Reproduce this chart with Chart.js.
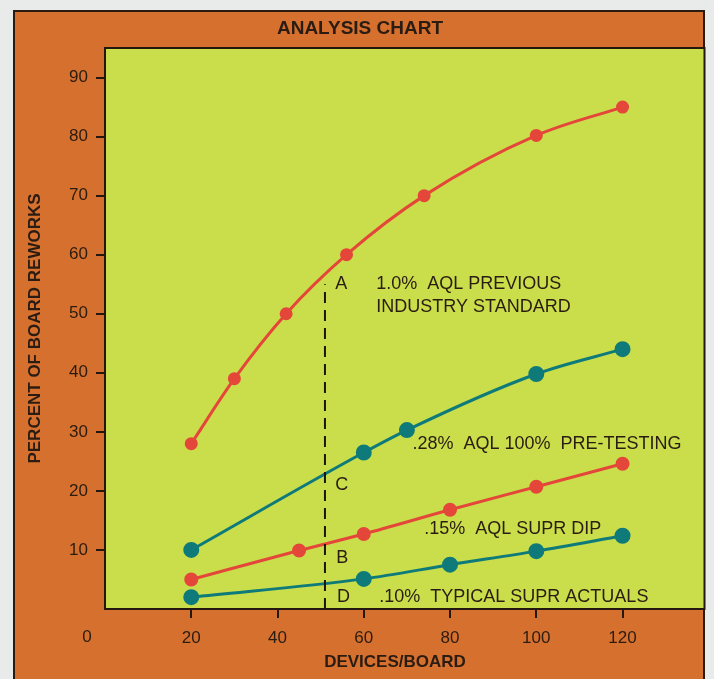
<!DOCTYPE html>
<html>
<head>
<meta charset="utf-8">
<script src="https://cdn.jsdelivr.net/npm/chart.js@4"></script>
<style>
  html, body { margin: 0; padding: 0; background: #e9eaea; overflow: hidden; }
  #frame { position: absolute; left: 13px; top: 10px; width: 692px; height: 700px; background: #d6702e; border: 2px solid #2a1a10; box-sizing: border-box; }
  #wrap { position: absolute; left: 0; top: 0; width: 714px; height: 679px; }
</style>
</head>
<body>
<div id="frame"></div>
<div id="wrap"><canvas id="chart"></canvas></div>
<script>
// ===== Analysis chart: board reworks vs devices/board =====

const xTicks = [20, 40, 60, 80, 100, 120];
const yTicks = [10, 20, 30, 40, 50, 60, 70, 80, 90];

// A - 1.0% AQL previous industry standard
const aX = [20, 30, 42, 56, 74, 100, 120];
const aY = [28, 39, 50, 60, 70, 80.2, 85];
// C - .28% AQL 100% pre-testing
const cX = [20, 60, 70, 100, 120];
const cY = [10, 26.5, 30.3, 39.8, 44];
// B - .15% AQL supr dip
const bX = [20, 45, 60, 80, 100, 120];
const bY = [5, 9.9, 12.7, 16.8, 20.7, 24.6];
// D - .10% typical supr actuals
const dX = [20, 60, 80, 100, 120];
const dY = [2, 5.1, 7.5, 9.8, 12.4];
// dashed marker line
const dashX = [51, 51];
const dashY = [0, 55];

const labelText = ['A', '1.0%  AQL PREVIOUS', 'INDUSTRY STANDARD', 'C', '.28%  AQL 100%  PRE-TESTING', 'B', '.15%  AQL SUPR DIP', 'D', '.10%  TYPICAL SUPR ACTUALS'];
const labelX = [53.4, 62.9, 62.9, 53.4, 71.3, 53.6, 74.0, 53.8, 63.6];
const labelY = [55.0, 55.0, 51.1, 21.0, 28.0, 8.6, 13.6, 2.0, 2.0];

const RED = '#e4473a', TEAL = '#0f7a7a', INK = '#2a1c12';
const FONT = '"Liberation Sans", Arial, sans-serif';
const pts = (xs, ys) => xs.map((x, i) => ({x: x, y: ys[i]}));

function lineSet(label, xs, ys, color, r) {
  return {label: label, data: pts(xs, ys), borderColor: color, backgroundColor: color, borderWidth: 3,
    pointRadius: r, pointHoverRadius: r, cubicInterpolationMode: 'monotone'};
}

const framePlugin = {
  id: 'frame',
  beforeDraw(chart) {
    const {ctx, chartArea: a} = chart;
    ctx.save();
    ctx.fillStyle = '#c9de4a';
    ctx.fillRect(a.left, a.top, a.right - a.left, a.bottom - a.top);
    ctx.restore();
  },
  afterDraw(chart) {
    const {ctx, chartArea: a, scales} = chart;
    ctx.save();
    ctx.strokeStyle = '#231710'; ctx.lineWidth = 2;
    ctx.strokeRect(a.left, a.top, a.right - a.left, a.bottom - a.top);
    ctx.fillStyle = INK;
    ctx.textBaseline = 'middle';
    ctx.textAlign = 'center';
    ctx.font = 'bold 19px ' + FONT;
    ctx.fillText('ANALYSIS CHART', 360, 29);
    ctx.font = 'bold 17px ' + FONT;
    ctx.fillText('DEVICES/BOARD', 395, 662);
    ctx.font = '17px ' + FONT;
    ctx.fillText('0', scales.x.getPixelForValue(0) - 18, 637);
    ctx.textAlign = 'left';
    ctx.font = '18px ' + FONT;
    labelText.forEach((t, i) => {
      ctx.fillText(t, scales.x.getPixelForValue(labelX[i]), scales.y.getPixelForValue(labelY[i]));
    });
    ctx.restore();
  }
};

new Chart(document.getElementById('chart'), {
  type: 'line',
  data: {
    datasets: [
      {label: 'dash', data: pts(dashX, dashY), borderColor: '#1c1410', borderWidth: 2, borderDash: [11, 7], pointRadius: 0},
      lineSet('A', aX, aY, RED, 5),
      lineSet('C', cX, cY, TEAL, 6.5),
      lineSet('B', bX, bY, RED, 5.5),
      lineSet('D', dX, dY, TEAL, 6.5)
    ]
  },
  options: {
    responsive: true, maintainAspectRatio: false, animation: false,
    layout: {padding: {top: 48, right: 9, left: 0, bottom: 0}},
    plugins: {legend: {display: false}, tooltip: {enabled: false}},
    scales: {
      x: {
        type: 'linear', min: 0, max: 139,
        afterBuildTicks: s => { s.ticks = xTicks.map(v => ({value: v})); },
        afterFit: s => { s.height = 70; },
        border: {display: false},
        grid: {drawOnChartArea: false, drawTicks: true, tickLength: 9, color: '#231710', lineWidth: 2},
        ticks: {color: INK, padding: 10, font: {family: FONT, size: 17}}
      },
      y: {
        min: 0, max: 95,
        afterBuildTicks: s => { s.ticks = yTicks.map(v => ({value: v})); },
        afterFit: s => { s.width = 105; },
        border: {display: false},
        grid: {drawOnChartArea: false, drawTicks: true, tickLength: 9, color: '#231710', lineWidth: 2},
        ticks: {color: INK, padding: 8, font: {family: FONT, size: 17}},
        title: {display: true, text: 'PERCENT OF BOARD REWORKS', color: INK, padding: {top: 25, bottom: 0},
          font: {family: FONT, size: 17, weight: 'bold'}}
      }
    }
  },
  plugins: [framePlugin]
});
</script>
</body>
</html>
